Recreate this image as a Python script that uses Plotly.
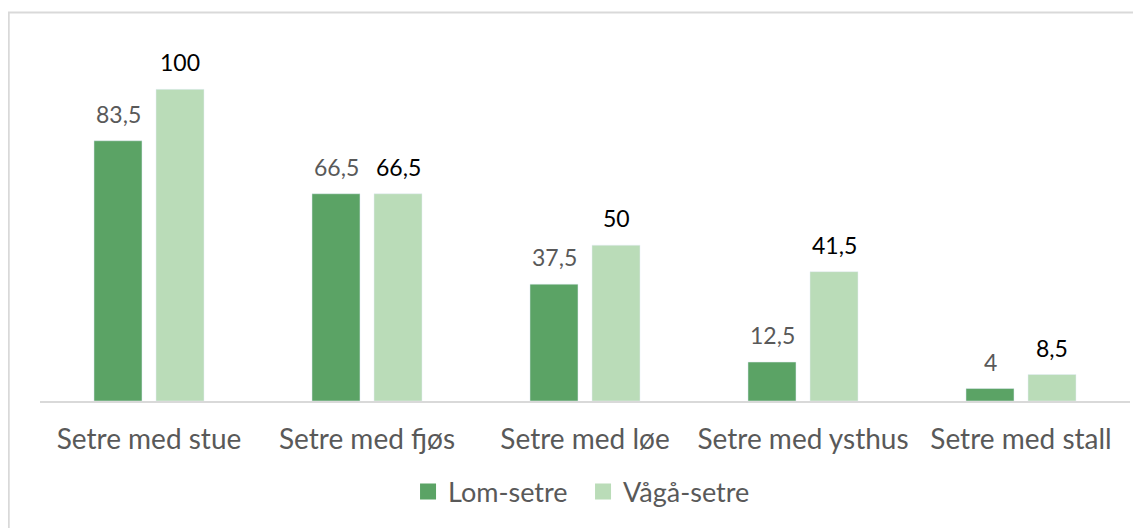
import plotly.graph_objects as go

categories = ["Setre med stue", "Setre med fjøs", "Setre med løe", "Setre med ysthus", "Setre med stall"]
lom = [83.5, 66.5, 37.5, 12.5, 4]
vaga = [100, 66.5, 50, 41.5, 8.5]
series_names = ["Lom-setre", "Vågå-setre"]

dark_green = "#5BA365"
light_green = "#BADCB8"
font_name = "Lato"

fig = go.Figure()

fig.add_trace(go.Bar(x=categories, y=lom, name=series_names[0],
                     marker_color=dark_green, showlegend=False))
fig.add_trace(go.Bar(x=categories, y=vaga, name=series_names[1],
                     marker_color=light_green, showlegend=False))

# legend entries with bigger square markers
for name, col in zip(series_names, [dark_green, light_green]):
    fig.add_trace(go.Scatter(x=[None], y=[None], mode="markers", name=name,
                             marker=dict(symbol="square", size=18, color=col)))

# value labels
annots = []
for vals, col, shift in [(lom, "#595959", -31), (vaga, "#000000", 31)]:
    for c, v in zip(categories, vals):
        txt = f"{v:g}".replace(".", ",")
        annots.append(dict(x=c, y=v, text=txt, showarrow=False, xshift=shift,
                           yanchor="bottom", yshift=11,
                           font=dict(family=font_name, size=23, color=col)))

# page body has an 8px margin, so the figure is a bit smaller than the window
fig.update_layout(
    width=1133, height=520,
    margin=dict(l=32, r=11, t=19, b=127),
    paper_bgcolor="white", plot_bgcolor="white",
    barmode="group", bargap=0.431, bargroupgap=0.226,
    font=dict(family=font_name, color="#595959"),
    annotations=annots,
    legend=dict(orientation="h", x=0.4982, xanchor="center", y=-0.243, yanchor="middle",
                font=dict(size=27, color="#595959"), itemwidth=30, entrywidth=130),
    shapes=[dict(type="rect", xref="paper", yref="paper",
                 x0=-0.0287, x1=1.2, y0=-0.6, y1=1.0388,
                 line=dict(color="#D9D9D9", width=2), fillcolor="rgba(0,0,0,0)")],
)

fig.update_xaxes(showline=True, linecolor="#D9D9D9", linewidth=2, showgrid=False,
                 ticks="", ticklabelstandoff=12, tickfont=dict(size=28, color="#595959"))
fig.update_yaxes(range=[0, 120], visible=False, showgrid=False, zeroline=False)

fig.write_html("out.html")
